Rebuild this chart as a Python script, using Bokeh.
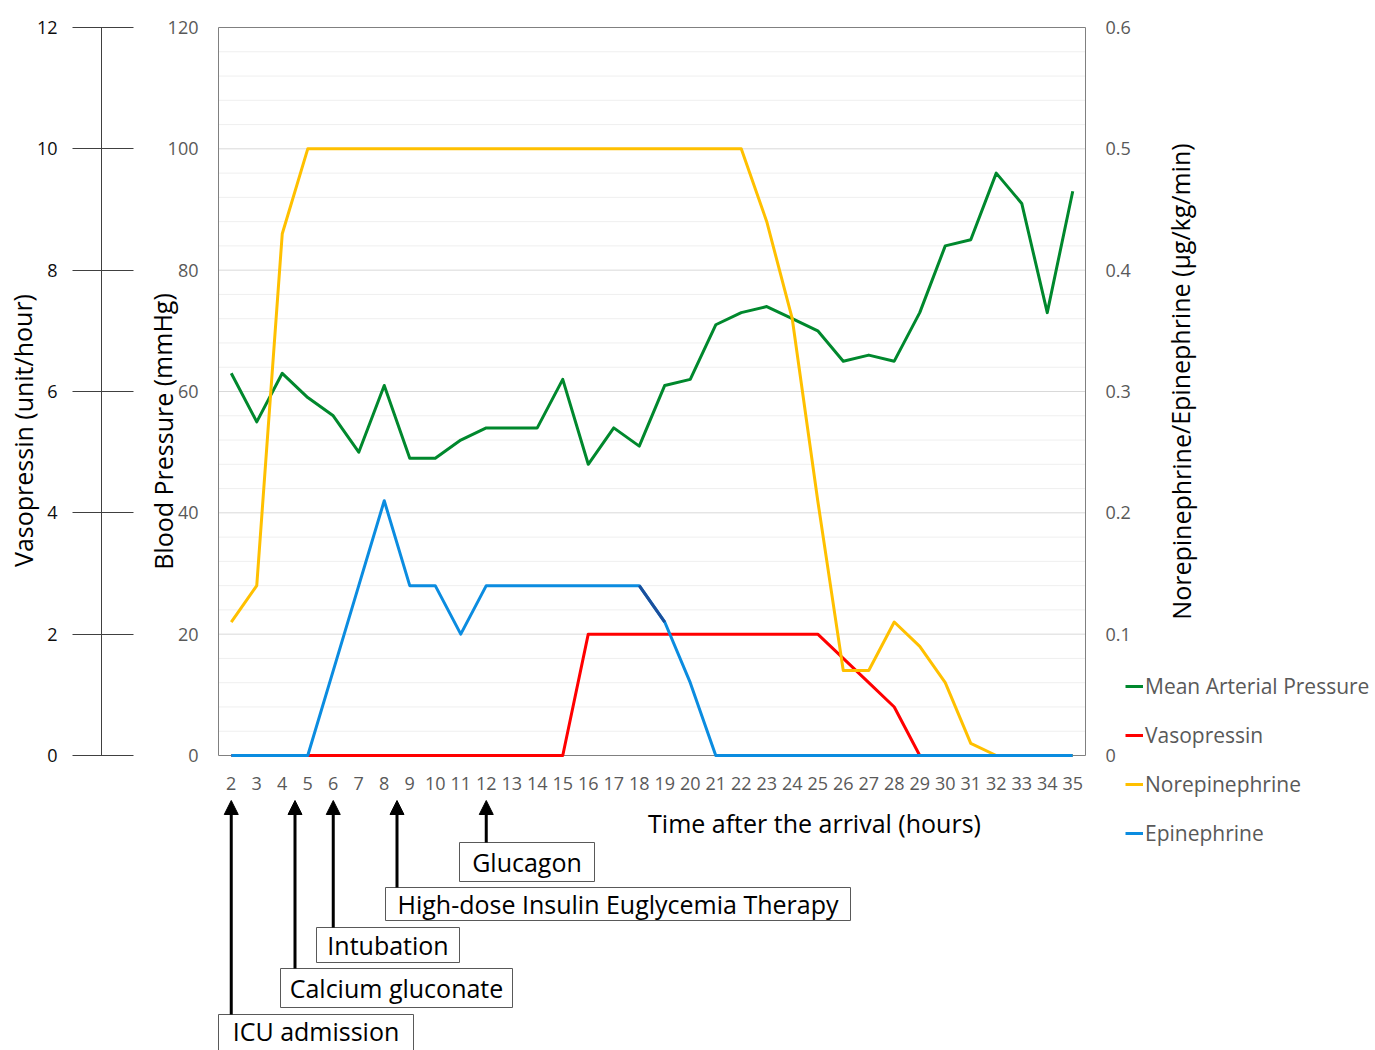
import math
from bokeh.plotting import figure
from bokeh.models import (Range1d, LinearAxis, FixedTicker, CustomJSTickFormatter,
                          Legend, LegendItem, Arrow, NormalHead, ColumnDataSource)
from bokeh.core.properties import value
from bokeh.embed import file_html
from bokeh.resources import INLINE

# ---------------- data ----------------
hours = [2, 3, 4, 5, 6, 7, 8, 9, 10, 11, 12, 13, 14, 15, 16, 17, 18,
         19, 20, 21, 22, 23, 24, 25, 26, 27, 28, 29, 30, 31, 32, 33, 34, 35]
mean_arterial_pressure = [63, 55, 63, 59, 56, 50, 61, 49, 49, 52, 54, 54, 54, 62, 48, 54, 51,
                          61, 62, 71, 73, 74, 72, 70, 65, 66, 65, 73, 84, 85, 96, 91, 73, 93]
vasopressin = [0, 0, 0, 0, 0, 0, 0, 0, 0, 0, 0, 0, 0, 0, 2, 2, 2,
               2, 2, 2, 2, 2, 2, 2, 1.6, 1.2, 0.8, 0, 0, 0, 0, 0, 0, 0]
norepinephrine = [0.11, 0.14, 0.43, 0.5, 0.5, 0.5, 0.5, 0.5, 0.5, 0.5, 0.5, 0.5, 0.5, 0.5, 0.5, 0.5, 0.5,
                  0.5, 0.5, 0.5, 0.5, 0.44, 0.36, 0.21, 0.07, 0.07, 0.11, 0.09, 0.06, 0.01, 0, 0, 0, 0]
epinephrine = [0, 0, 0, 0, 0.07, 0.14, 0.21, 0.14, 0.14, 0.10, 0.14, 0.14, 0.14, 0.14, 0.14, 0.14, 0.14,
               0.11, 0.06, 0, 0, 0, 0, 0, 0, 0, 0, 0, 0, 0, 0, 0, 0, 0]

bp_ticks = [0, 20, 40, 60, 80, 100, 120]
vaso_ticks = [0, 2, 4, 6, 8, 10, 12]
ne_ticks = [0, 0.1, 0.2, 0.3, 0.4, 0.5, 0.6]
grid_major = [20, 40, 60, 80, 100]
grid_minor = [4, 8, 12, 16, 24, 28, 32, 36, 44, 48, 52, 56, 64, 68, 72, 76,
              84, 88, 92, 96, 104, 108, 112, 116]

event_hours = [2, 4.5, 6, 8.5, 12]
event_labels = ["ICU admission", "Calcium gluconate", "Intubation",
                "High-dose Insulin Euglycemia Therapy", "Glucagon"]

# ---------------- layout (page pixels) ----------------
W, H, M = 1375, 1050, 0
PL, PR, PT, PB = 218, 1085, 27, 755          # plot area box
X_LO, X_HI = 1.5, 35.5
BP_MAX, VASO_MAX, NE_MAX = 120, 12, 0.6
VASO_AXIS_X = 101

box_left = [218, 280, 316, 385, 459]
box_right = [413, 512, 459, 850, 594]
box_top = [1014, 968, 927, 887, 842]
box_bottom = [1058, 1007, 962, 920, 881]
arrow_tip = 800

GREEN, RED, YELLOW, BLUE, DARKBLUE = "#00882D", "#FF0000", "#FFC000", "#0B8CE0", "#1B4F9C"
FONT = "Open Sans"


def span(lo, hi, pix_lo, pix_hi, c_lo, c_hi):
    k = (hi - lo) / (pix_hi - pix_lo)
    return lo + (c_lo - pix_lo) * k, lo + (c_hi - pix_lo) * k


xr = span(X_LO, X_HI, PL, PR, M, M + W)
yr = span(0, BP_MAX, PB, PT, M + H, M)
vr = span(0, VASO_MAX, PB, PT, M + H, M)
nr = span(0, NE_MAX, PB, PT, M + H, M)

p = figure(width=W, height=H, x_range=Range1d(*xr), y_range=Range1d(*yr),
           x_axis_type=None, y_axis_type=None, toolbar_location=None,
           output_backend="svg", min_border=0, outline_line_color=None,
           background_fill_color="white", border_fill_color="white")
p.extra_x_ranges = {"px": Range1d(M, M + W)}
p.extra_y_ranges = {"py": Range1d(M + H, M), "vaso": Range1d(*vr), "ne": Range1d(*nr)}

# grid lines
p.segment(x0=[X_LO] * len(grid_minor), x1=[X_HI] * len(grid_minor), y0=grid_minor, y1=grid_minor,
          line_color="#EFEFEF", line_width=1)
p.segment(x0=[X_LO] * len(grid_major), x1=[X_HI] * len(grid_major), y0=grid_major, y1=grid_major,
          line_color="#D9D9D9", line_width=1)
# plot area border
p.quad(left=[X_LO], right=[X_HI], bottom=[0], top=[BP_MAX], fill_color=None,
       line_color="#808080", line_width=1)

# series
r_map = p.line(hours, mean_arterial_pressure, line_color=GREEN, line_width=3, line_join="round")
r_vaso = p.line(hours, vasopressin, y_range_name="vaso", line_color=RED, line_width=3, line_join="round")
r_ne = p.line(hours, norepinephrine, y_range_name="ne", line_color=YELLOW, line_width=3, line_join="round")
r_epi = p.line(hours, epinephrine, y_range_name="ne", line_color=BLUE, line_width=3, line_join="round")
p.line(hours[16:18], epinephrine[16:18], y_range_name="ne", line_color=DARKBLUE, line_width=3,
       line_join="round")

# axes
common = dict(major_label_text_font=FONT, major_label_text_font_size="18px",
              minor_tick_line_color=None, minor_tick_in=0, minor_tick_out=0)

bp_axis = LinearAxis(ticker=FixedTicker(ticks=bp_ticks, minor_ticks=[]), fixed_location=X_LO,
                     bounds=(0, BP_MAX), axis_line_color=None, major_tick_line_color=None,
                     major_tick_out=0, major_tick_in=0, major_label_standoff=20,
                     major_label_text_color="#595959", **common)
p.add_layout(bp_axis, "left")

vaso_axis = LinearAxis(y_range_name="vaso", x_range_name="px", fixed_location=VASO_AXIS_X,
                       ticker=FixedTicker(ticks=vaso_ticks, minor_ticks=[]), bounds=(0, VASO_MAX),
                       axis_line_color="#404040", axis_line_width=1,
                       major_tick_line_color="#404040", major_tick_out=29, major_tick_in=32,
                       major_label_standoff=15, major_label_text_color="#0D0D0D", **common)
p.add_layout(vaso_axis, "left")

ne_axis = LinearAxis(y_range_name="ne", fixed_location=X_HI,
                     ticker=FixedTicker(ticks=ne_ticks, minor_ticks=[]), bounds=(0, NE_MAX),
                     formatter=CustomJSTickFormatter(code="return (Math.round(tick*10)/10).toString()"),
                     axis_line_color=None, major_tick_line_color=None, major_tick_out=0, major_tick_in=0,
                     major_label_standoff=20, major_label_text_color="#595959", **common)
p.add_layout(ne_axis, "right")

x_axis = LinearAxis(fixed_location=0, ticker=FixedTicker(ticks=hours, minor_ticks=[]),
                    bounds=(X_LO, X_HI), axis_line_color=None, major_tick_line_color=None,
                    major_tick_out=0, major_tick_in=0, major_label_standoff=21,
                    major_label_text_color="#595959", **common)
p.add_layout(x_axis, "below")

# axis titles
titles = ColumnDataSource(dict(
    x=[22, 162, 1180, 814],
    y=[430, 431, 381, 822],
    text=["Vasopressin (unit/hour)", "Blood Pressure (mmHg)",
          "Norepinephrine/Epinephrine (\u00b5g/kg/min)", "Time after the arrival (hours)"],
    angle=[math.pi / 2, math.pi / 2, math.pi / 2, 0.0]))
p.text(x="x", y="y", text="text", angle="angle", source=titles, x_range_name="px", y_range_name="py",
       text_align="center", text_baseline="middle", text_font=value(FONT),
       text_font_size="25px", text_color="#000000")

# event boxes + arrows
boxes = ColumnDataSource(dict(
    left=box_left, right=box_right, top=box_top, bottom=box_bottom,
    cx=[(a + b) / 2 for a, b in zip(box_left, box_right)],
    cy=[(a + b) / 2 for a, b in zip(box_top, [min(b, 1046) for b in box_bottom])],
    text=event_labels))
p.quad(left="left", right="right", top="top", bottom="bottom", source=boxes,
       x_range_name="px", y_range_name="py", fill_color="white", line_color="#595959", line_width=1)
p.text(x="cx", y="cy", text="text", source=boxes, x_range_name="px", y_range_name="py",
       text_align="center", text_baseline="middle", text_font=value(FONT),
       text_font_size="25px", text_color="#000000")

arrows = ColumnDataSource(dict(x0=event_hours, y0=box_top, x1=event_hours, y1=[arrow_tip] * len(event_hours)))
p.add_layout(Arrow(end=NormalHead(size=14, fill_color="black", line_color="black", line_width=1),
                   source=arrows, x_start="x0", y_start="y0", x_end="x1", y_end="y1",
                   y_range_name="py", line_color="black", line_width=3))

# legend
legend = Legend(items=[LegendItem(label="Mean Arterial Pressure", renderers=[r_map]),
                       LegendItem(label="Vasopressin", renderers=[r_vaso]),
                       LegendItem(label="Norepinephrine", renderers=[r_ne]),
                       LegendItem(label="Epinephrine", renderers=[r_epi])],
                location=(1125 - M, H + M - 840 - 8), padding=0, margin=0, spacing=19,
                glyph_width=18, glyph_height=30, label_height=30, label_standoff=2,
                label_text_font=FONT, label_text_font_size="21px", label_text_color="#595959",
                border_line_color=None, background_fill_alpha=0)
p.add_layout(legend, "center")

open("out.html", "w").write(file_html(p, INLINE))
